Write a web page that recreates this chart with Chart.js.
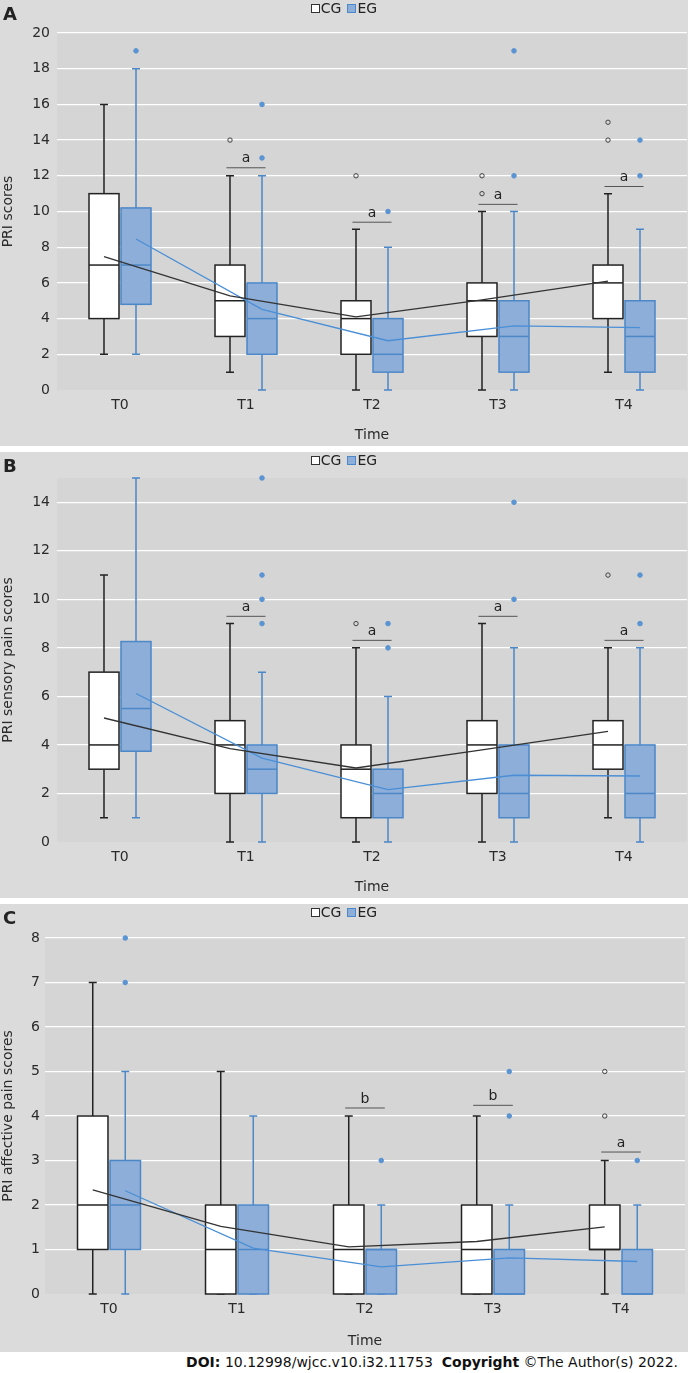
<!DOCTYPE html>
<html>
<head>
<meta charset="utf-8">
<script src="https://cdn.jsdelivr.net/npm/chart.js@4.4.0/dist/chart.umd.min.js"></script>
<style>
  body { margin: 0; width: 688px; height: 1373px; position: relative; overflow: hidden; background: #fff;
         font-family: "DejaVu Sans", Verdana, sans-serif; color: #222; }
  .panel { position: absolute; left: 0; width: 688px; background: #dbdbdb; overflow: hidden; }
  .panel canvas { position: absolute; left: 0; top: 0; }
  .tag { position: absolute; left: 3px; top: 5px; font-weight: bold; font-size: 18px; line-height: 18px; color: #222; }
  .legend { position: absolute; left: 0; top: 1px; width: 688px; height: 14px; display: flex; justify-content: center;
            align-items: center; font-size: 14px; line-height: 14px; color: #222; }
  .sw { display: inline-block; width: 7px; height: 7px; border: 1px solid #333; background: #fff; margin-right: 1px; }
  .sw.eg { background: #8daed8; border-color: #4c87c8; margin-left: 6px; }
  .foot { position: absolute; right: 10px; top: 1354px; font-size: 14px; line-height: 16px; color: #111; white-space: pre; }
</style>
</head>
<body>

<!-- canvases are a few px wider than the page: Chart.js keeps ~5px right margin -->
<div class="panel" style="top:0;height:446px">
  <canvas id="chartA" width="692" height="446"></canvas>
  <div class="tag">A</div>
  <div class="legend"><span class="sw"></span>CG<span class="sw eg"></span>EG</div>
</div>
<div class="panel" style="top:452px;height:446px">
  <canvas id="chartB" width="692" height="446"></canvas>
  <div class="tag">B</div>
  <div class="legend"><span class="sw"></span>CG<span class="sw eg"></span>EG</div>
</div>
<div class="panel" style="top:904px;height:448px">
  <canvas id="chartC" width="690" height="448"></canvas>
  <div class="tag">C</div>
  <div class="legend"><span class="sw"></span>CG<span class="sw eg"></span>EG</div>
</div>
<div class="foot"><b>DOI:</b> 10.12998/wjcc.v10.i32.11753  <b>Copyright</b> ©The Author(s) 2022.</div>

<script>
const timePoints = ['T0', 'T1', 'T2', 'T3', 'T4'];

// boxes are [min, q1, median, q3, max] per time point

// A - PRI scores
const priCG = [[2, 4, 7, 11, 16], [1, 3, 5, 7, 12], [0, 2, 4, 5, 9], [0, 3, 5, 6, 10], [1, 4, 6, 7, 11]];
const priEG = [[2, 4.8, 7, 10.2, 18], [0, 2, 4, 6, 12], [0, 1, 2, 4, 8], [0, 1, 3, 5, 10], [0, 1, 3, 5, 9]];
const priCGMean = [7.47, 5.27, 4.1, 5.05, 6.1];
const priEGMean = [8.46, 4.52, 2.76, 3.59, 3.5];
const priCGOut = [[], [14], [12], [11, 12], [14, 15]];
const priEGOut = [[19], [13, 16], [10], [12, 19], [12, 14]];
const priSig = ['', 'a', 'a', 'a', 'a'];
const priSigAt = [null, 12.45, 9.4, 10.4, 11.4];

// B - PRI sensory pain scores
const sensCG = [[1, 3, 4, 7, 11], [0, 2, 4, 5, 9], [0, 1, 3, 4, 8], [0, 2, 4, 5, 9], [1, 3, 4, 5, 8]];
const sensEG = [[1, 3.74, 5.5, 8.26, 15], [0, 2, 3, 4, 7], [0, 1, 2, 3, 6], [0, 1, 2, 4, 8], [0, 1, 2, 4, 8]];
const sensCGMean = [5.11, 3.85, 3.05, 3.8, 4.56];
const sensEGMean = [6.12, 3.46, 2.16, 2.75, 2.72];
const sensCGOut = [[], [], [9], [], [11]];
const sensEGOut = [[], [9, 10, 11, 15], [8, 9], [10, 14], [9, 11]];
const sensSig = ['', 'a', 'a', 'a', 'a'];
const sensSigAt = [null, 9.3, 8.31, 9.3, 8.31];

// C - PRI affective pain scores
const affCG = [[0, 1, 2, 4, 7], [0, 0, 1, 2, 5], [0, 0, 1, 2, 4], [0, 0, 1, 2, 4], [0, 1, 1, 2, 3]];
const affEG = [[0, 1, 2, 3, 5], [0, 0, 1, 2, 4], [0, 0, 1, 1, 2], [0, 0, 0, 1, 2], [0, 0, 0, 1, 2]];
const affCGMean = [2.34, 1.52, 1.06, 1.18, 1.51];
const affEGMean = [2.32, 1.03, 0.61, 0.81, 0.73];
const affCGOut = [[], [], [], [], [4, 5]];
const affEGOut = [[7, 8], [], [3], [4, 5], [3]];
const affSig = ['', '', 'b', 'b', 'a'];
const affSigAt = [null, null, 4.18, 4.24, 3.19];

const FONT = '"DejaVu Sans", Verdana, sans-serif';
Chart.defaults.font.family = FONT;
Chart.defaults.font.size = 14;
Chart.defaults.color = '#2a2a2a';

const OFF = 0.127;   // CG left, EG right of the category
const BOX_W = 0.238;
const CG_STROKE = '#222', EG_STROKE = '#4c87c8', EG_FILL = '#8daed8';

function outlierPoints(list, off) {
  const pts = [];
  list.forEach((vals, i) => vals.forEach(v => pts.push({ x: i + off, y: v })));
  return pts;
}

function makePanel(id, p) {
  const canvas = document.getElementById(id);
  const H = canvas.height;
  const groups = [
    { stats: p.cg, off: -OFF, fill: '#ffffff', stroke: CG_STROKE },
    { stats: p.eg, off: OFF, fill: EG_FILL, stroke: EG_STROKE }
  ];

  const boxPlugin = {
    id: 'boxes',
    beforeDraw(chart) {
      const a = chart.chartArea, ctx = chart.ctx;
      ctx.save();
      ctx.fillStyle = '#d5d5d5';
      ctx.fillRect(a.left, a.top, a.right - a.left, a.bottom - a.top);
      ctx.restore();
    },
    beforeDatasetsDraw(chart) {
      const { ctx, scales: { x, y } } = chart;
      const half = (x.getPixelForValue(BOX_W) - x.getPixelForValue(0)) / 2;
      groups.forEach(g => {
        g.stats.forEach((s, i) => {
          const [mn, q1, md, q3, mx] = s;
          const cx = x.getPixelForValue(i + g.off);
          const yMin = y.getPixelForValue(mn), yQ1 = y.getPixelForValue(q1);
          const yMd = y.getPixelForValue(md), yQ3 = y.getPixelForValue(q3), yMax = y.getPixelForValue(mx);
          ctx.save();
          ctx.strokeStyle = g.stroke;
          ctx.lineWidth = 1.5;
          ctx.beginPath();
          ctx.moveTo(cx, yQ3); ctx.lineTo(cx, yMax);
          ctx.moveTo(cx - 4, yMax); ctx.lineTo(cx + 4, yMax);
          ctx.moveTo(cx, yQ1); ctx.lineTo(cx, yMin);
          ctx.moveTo(cx - 4, yMin); ctx.lineTo(cx + 4, yMin);
          ctx.stroke();
          ctx.fillStyle = g.fill;
          ctx.fillRect(cx - half, yQ3, 2 * half, yQ1 - yQ3);
          ctx.strokeRect(cx - half, yQ3, 2 * half, yQ1 - yQ3);
          ctx.beginPath();
          ctx.moveTo(cx - half, yMd); ctx.lineTo(cx + half, yMd);
          ctx.stroke();
          ctx.restore();
        });
      });
    },
    afterDatasetsDraw(chart) {
      const { ctx, scales: { x, y } } = chart;
      ctx.save();
      ctx.strokeStyle = '#555';
      ctx.lineWidth = 1;
      ctx.fillStyle = '#222';
      ctx.font = '14px ' + FONT;
      ctx.textAlign = 'center';
      ctx.textBaseline = 'middle';
      p.sig.forEach((t, i) => {
        if (!t) return;
        const yy = y.getPixelForValue(p.sigAt[i]);
        const l = x.getPixelForValue(i - 0.155), r = x.getPixelForValue(i + 0.155);
        ctx.beginPath();
        ctx.moveTo(l, yy); ctx.lineTo(r, yy);
        ctx.stroke();
        ctx.fillText(t, (l + r) / 2, yy - 9);
      });
      ctx.restore();
    }
  };

  return new Chart(canvas, {
    type: 'scatter',
    data: {
      datasets: [
        {
          type: 'line', label: 'CG mean',
          data: p.cgMean.map((v, i) => ({ x: i - OFF, y: v })),
          borderColor: '#333', borderWidth: 1.3, pointRadius: 0, tension: 0
        },
        {
          type: 'line', label: 'EG mean',
          data: p.egMean.map((v, i) => ({ x: i + OFF, y: v })),
          borderColor: '#4a8fd6', borderWidth: 1.3, pointRadius: 0, tension: 0
        },
        {
          label: 'CG outliers', data: outlierPoints(p.cgOut, -OFF), clip: false,
          pointRadius: 2.2, pointBorderWidth: 1, pointBorderColor: '#444', pointBackgroundColor: 'rgba(0,0,0,0)'
        },
        {
          label: 'EG outliers', data: outlierPoints(p.egOut, OFF), clip: false,
          pointRadius: 2.3, pointBorderWidth: 1, pointBorderColor: '#5b94d2', pointBackgroundColor: '#5b94d2'
        }
      ]
    },
    options: {
      responsive: false,
      animation: false,
      events: [],
      layout: { padding: { top: p.top, right: 1, left: 0, bottom: 0 } },
      plugins: { legend: { display: false }, tooltip: { enabled: false } },
      scales: {
        x: {
          type: 'linear', min: -0.5, max: 4.5,
          afterBuildTicks: s => { s.ticks = timePoints.map((_, i) => ({ value: i })); },
          afterFit: s => { s.height = H - 390; },
          ticks: { callback: v => timePoints[v], padding: 7, autoSkip: false, maxRotation: 0 },
          grid: { display: false, drawTicks: false },
          border: { display: false },
          title: { display: true, text: 'Time', padding: { top: 0, bottom: 2 } }
        },
        y: {
          min: 0, max: p.max,
          afterFit: s => { s.width = p.left; },
          ticks: { stepSize: p.step, padding: p.tickPad, includeBounds: false },
          grid: { color: c => (c.tick && c.tick.value === 0 ? 'rgba(0,0,0,0)' : '#ffffff'), lineWidth: 1.3, drawTicks: false },
          border: { display: false },
          title: { display: true, text: p.yTitle, padding: 0 }
        }
      }
    },
    plugins: [boxPlugin]
  });
}

makePanel('chartA', {
  cg: priCG, eg: priEG, cgMean: priCGMean, egMean: priEGMean, cgOut: priCGOut, egOut: priEGOut,
  sig: priSig, sigAt: priSigAt, yTitle: 'PRI scores', max: 20, step: 2,
  top: 33, left: 57, tickPad: 7
});

makePanel('chartB', {
  cg: sensCG, eg: sensEG, cgMean: sensCGMean, egMean: sensEGMean, cgOut: sensCGOut, egOut: sensEGOut,
  sig: sensSig, sigAt: sensSigAt, yTitle: 'PRI sensory pain scores', max: 15, step: 2,
  top: 26, left: 57, tickPad: 7
});

makePanel('chartC', {
  cg: affCG, eg: affEG, cgMean: affCGMean, egMean: affEGMean, cgOut: affCGOut, egOut: affEGOut,
  sig: affSig, sigAt: affSigAt, yTitle: 'PRI affective pain scores', max: 8, step: 1,
  top: 34, left: 45, tickPad: 5
});
</script>
</body>
</html>
